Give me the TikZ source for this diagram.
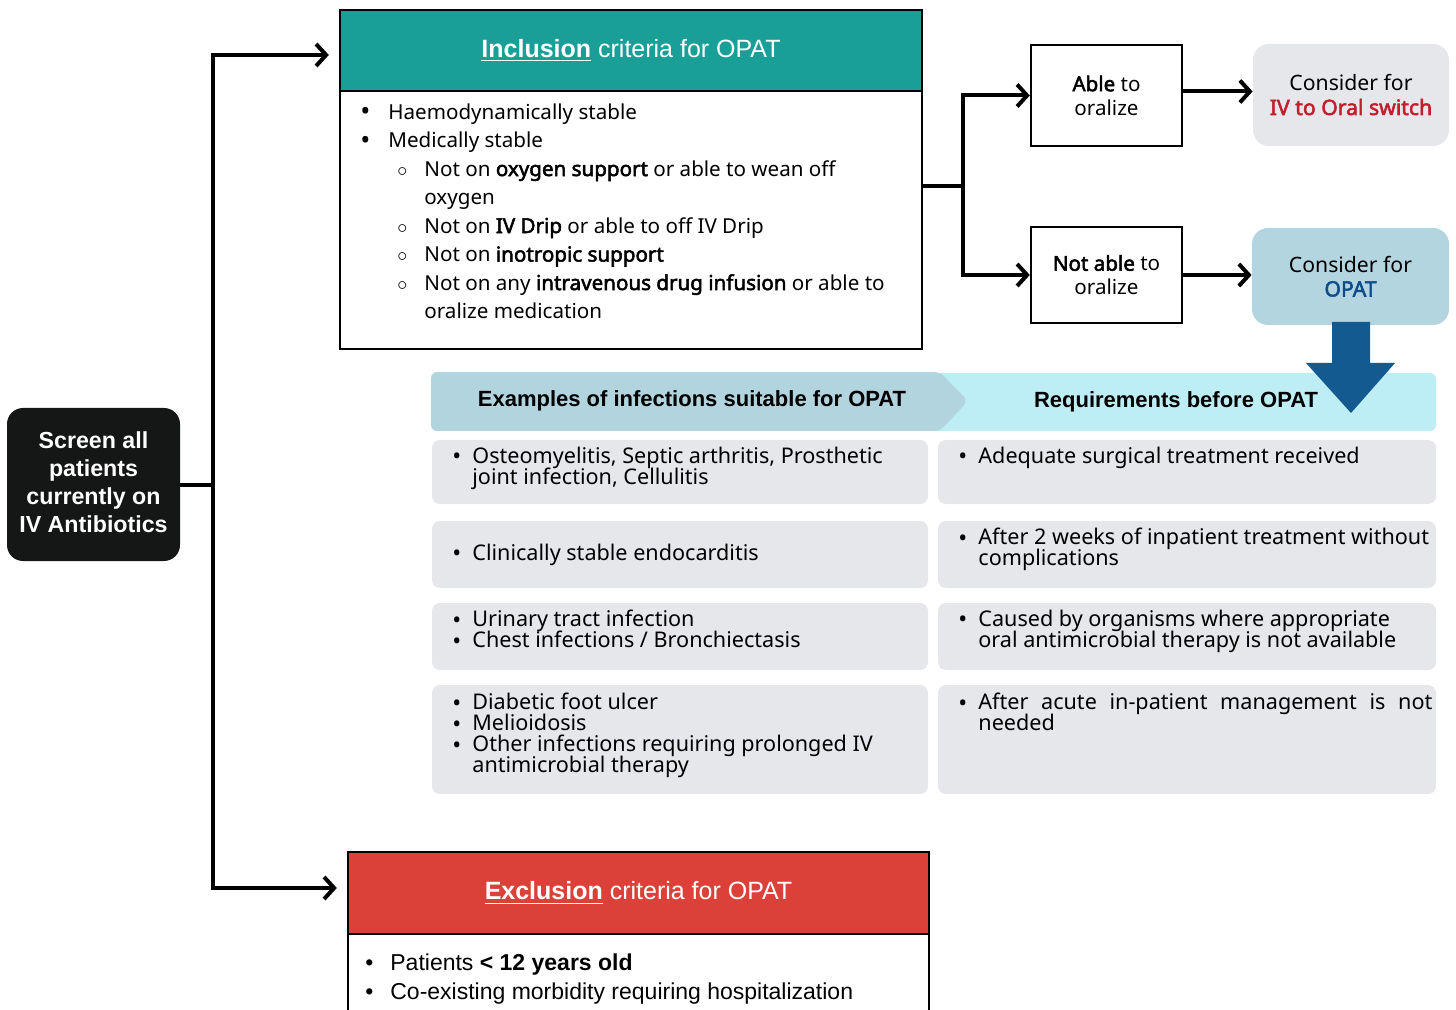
\documentclass[tikz,border=0pt]{standalone}
\usepackage{fontspec}
\setmainfont{Noto Sans}[BoldFont={Noto Sans},BoldFeatures={FakeBold=2.5}]
\newfontfamily\arial{Liberation Sans}
\usetikzlibrary{arrows.meta,fit,calc}
\definecolor{incteal}{RGB}{26,158,152}
\definecolor{excred}{RGB}{219,65,57}
\definecolor{scrblk}{RGB}{21,23,22}
\definecolor{grayfill}{RGB}{230,231,235}
\definecolor{opatblue}{RGB}{179,213,224}
\definecolor{banleft}{RGB}{178,212,223}
\definecolor{banright}{RGB}{190,238,245}
\definecolor{arrblue}{RGB}{19,90,144}
\definecolor{ivred}{RGB}{196,30,46}
\definecolor{opattxt}{RGB}{15,76,138}
\newcommand\bigbul{\raisebox{-0.15ex}{\scalebox{1.3}{\textbullet}}}
\newcommand\bul{\makebox[14pt][l]{\bigbul}}
\newcommand\sbul{\hspace*{18.5pt}\makebox[13.5pt][l]{$\circ$}}
\newcommand\sind{\hspace*{32pt}}
\newcommand\gbul{\makebox[10pt][l]{\raisebox{-0.1ex}{\scalebox{1.1}{\textbullet}}}}
\newcommand\gind{\hspace*{10pt}}
\newcommand\tightls{\lineskiplimit=-10pt\relax\lineskip=0pt\relax}
\newcommand\rowsize{\fontsize{10.8}{10.5}\selectfont\tightls}
\tikzset{
  boxed/.style={draw, line width=1.2pt, inner sep=0pt},
  conn/.style={line width=2pt, -{Straight Barb[length=5pt,width=11pt]}},
  plainline/.style={line width=2pt},
  graybox/.style={fill=grayfill, rounded corners=4pt, inner sep=0pt},
  listtxt/.style={inner sep=0pt, align=left, anchor=north west},
  bodyfont/.style={font=\fontsize{10.3}{14.25}\selectfont},
  rowfont/.style={font=\rowsize},
  ctext/.style={inner sep=0pt, align=center},
}
\begin{document}
\begin{tikzpicture}[x=0.5pt,y=-0.5pt]
\useasboundingbox (0,0) rectangle (1456,1010);
\clip (0,0) rectangle (1456,1010);

% Screen box
\node[fit={(7,408)(180,561)}, fill=scrblk, rounded corners=8pt, inner sep=0pt] (screen) {};
\node[ctext, text=white, font=\arial\bfseries\fontsize{11.6}{14}\selectfont] (screentxt)
      at ($(screen.center)+(0,-2)$) {Screen all\\patients\\currently on\\IV Antibiotics};

% Inclusion box
\node[fit={(340,10)(922,91)}, boxed, fill=incteal] (inchead) {};
\node[ctext, text=white, font=\arial\fontsize{12.5}{14}\selectfont] (incheadtxt)
      at (inchead.center) {\underline{\textbf{Inclusion}} criteria for OPAT};
\node[fit={(340,91)(922,349)}, boxed] (incbody) {};
\node[listtxt, bodyfont] (inclist) at (360,103)
{\bul Haemodynamically stable\\
 \bul Medically stable\\
 \sbul Not on \textbf{oxygen support} or able to wean off\\
 \sind oxygen\\
 \sbul Not on \textbf{IV Drip} or able to off IV Drip\\
 \sbul Not on \textbf{inotropic support}\\
 \sbul Not on any \textbf{intravenous drug infusion} or able to\\
 \sind oralize medication};

% Able / not able
\node[fit={(1031,45)(1182,146)}, boxed] (able) {};
\node[ctext, font=\fontsize{10.3}{12}\selectfont] (abletxt) at (able.center)
  {\textbf{Able} to\\oralize};
\node[fit={(1031,227)(1182,323)}, boxed] (notable) {};
\node[ctext, font=\fontsize{10.3}{12}\selectfont] (notabletxt) at (notable.center)
  {\textbf{Not able} to\\oralize};

% Consider boxes
\node[fit={(1253,44)(1449,146)}, fill=grayfill, rounded corners=8pt, inner sep=0pt] (ivbox) {};
\node[ctext, font=\fontsize{10.6}{12}\selectfont] (ivtxt) at (ivbox.center)
  {Consider for\\\textcolor{ivred}{\textbf{IV to Oral switch}}};
\node[fit={(1252,228)(1449,325)}, fill=opatblue, rounded corners=8pt, inner sep=0pt] (opatbox) {};
\node[ctext, font=\fontsize{10.6}{12}\selectfont] (opattxtn) at (opatbox.center)
  {Consider for\\\textcolor{opattxt}{\textbf{OPAT}}};

% Banner
\fill[banright, rounded corners=3pt] (930,373) rectangle (1436,431);
\fill[banleft, rounded corners=3pt] (431,372) -- (940,372) -- (968,401) -- (940,431) -- (431,431) -- cycle;
\node[font=\arial\bfseries\fontsize{11}{12}\selectfont] (banL) at (692,401) {Examples of infections suitable for OPAT};
\node[font=\arial\bfseries\fontsize{11}{12}\selectfont] (banR) at (1176,402) {Requirements before OPAT};

% Blue down arrow
\fill[arrblue] (1332,322) -- (1370,322) -- (1370,363) -- (1395,363) -- (1351,413)
   -- (1306,363) -- (1332,363) -- cycle;

% Gray rows
\node[fit={(432,440)(928,504)}, graybox] (l1) {};
\node[fit={(432,521)(928,588)}, graybox] (l2) {};
\node[fit={(432,603)(928,670)}, graybox] (l3) {};
\node[fit={(432,685)(928,794)}, graybox] (l4) {};
\node[fit={(938,440)(1436,504)}, graybox] (r1) {};
\node[fit={(938,521)(1436,588)}, graybox] (r2) {};
\node[fit={(938,603)(1436,670)}, graybox] (r3) {};
\node[fit={(938,685)(1436,794)}, graybox] (r4) {};

\node[listtxt, rowfont] (l1t) at (452,447)
 {\gbul Osteomyelitis, Septic arthritis, Prosthetic\\
  \gind joint infection, Cellulitis};
\node[inner sep=0pt, anchor=west, rowfont] (l2t) at (452,555)
 {\gbul Clinically stable endocarditis};
\node[listtxt, rowfont] (l3t) at (452,610)
 {\gbul Urinary tract infection\\
  \gbul Chest infections / Bronchiectasis};
\node[listtxt, rowfont] (l4t) at (452,693)
 {\gbul Diabetic foot ulcer\\
  \gbul Melioidosis\\
  \gbul Other infections requiring prolonged IV\\
  \gind antimicrobial therapy};

\node[listtxt, rowfont] (r1t) at (958,447)
 {\gbul Adequate surgical treatment received};
\node[listtxt, rowfont] (r2t) at (958,528)
 {\gbul After 2 weeks of inpatient treatment without\\
  \gind complications};
\node[listtxt, rowfont] (r3t) at (958,610)
 {\gbul Caused by organisms where appropriate\\
  \gind oral antimicrobial therapy is not available};
\node[listtxt, rowfont] (r4t) at (958,693)
 {\parbox[t]{237pt}{\tightls\hangindent=10pt\hangafter=1\gbul After acute in-patient management is not\linebreak needed}};

% Exclusion box
\node[fit={(348,852)(929,934)}, boxed, fill=excred] (exchead) {};
\node[ctext, text=white, font=\arial\fontsize{12.5}{14}\selectfont] (excheadtxt)
      at (exchead.center) {\underline{\textbf{Exclusion}} criteria for OPAT};
\node[fit={(348,934)(929,1030)}, boxed] (excbody) {};
\node[listtxt, font=\arial\fontsize{11.5}{14.5}\selectfont] (exclist) at (365,953)
 {\makebox[12.5pt][l]{\textbullet}Patients \textbf{< 12 years old}\\
  \makebox[12.5pt][l]{\textbullet}Co-existing morbidity requiring hospitalization};

% Connectors
\draw[plainline] (screen.east) -- (213,0 |- screen.east) coordinate (jL);
\draw[conn, shorten >=5pt] (jL) |- ($(inchead.west)+(0,4.5)$);
\draw[conn, shorten >=5pt] (jL) |- ($(exchead.west)+(0,-5)$);
\coordinate (jR) at (963,186);
\draw[plainline] (incbody.east |- jR) -- (jR);
\draw[conn] (jR) |- (able.west);
\draw[conn] (jR) |- (notable.west);
\draw[conn] ($(able.east)+(0,-4)$) -- ($(able.east -| ivbox.west)+(0,-4)$);
\draw[conn] (notable.east) -- (notable.east -| opatbox.west);
\end{tikzpicture}
\end{document}
